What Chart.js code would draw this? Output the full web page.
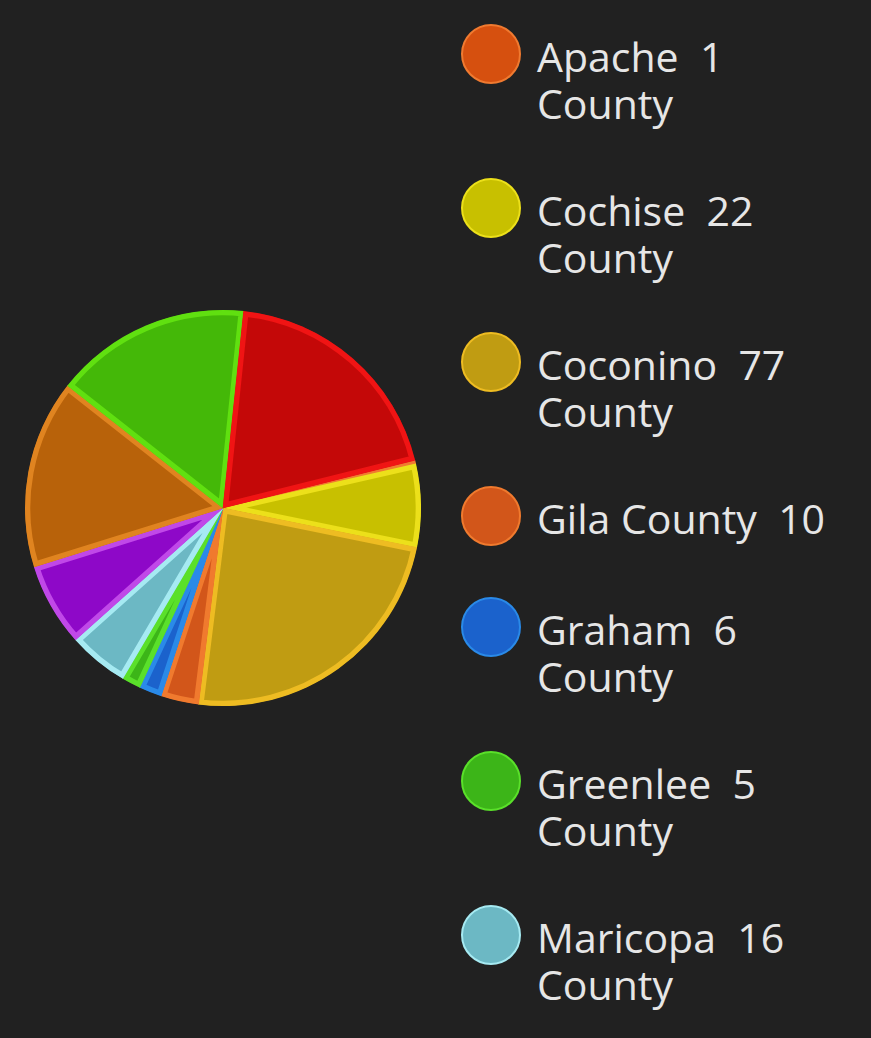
<!DOCTYPE html>
<html>
<head>
<meta charset="utf-8">
<script src="https://cdn.jsdelivr.net/npm/chart.js@4.4.1/dist/chart.umd.min.js"></script>
<style>
  html, body { margin: 0; padding: 0; background: #212121; width: 871px; height: 1038px; overflow: hidden; }
  #pieBox { position: absolute; left: 3px; top: 0; width: 440px; height: 1016px; }
  #legend { position: absolute; left: 461px; top: 33px; font-family: "Open Sans", sans-serif; font-weight: 500; font-size: 41px; line-height: 47px; color: #e6e6e6; }
  .item { display: flex; align-items: flex-start; margin-bottom: 60px; }
  .dot { width: 56px; height: 56px; border-radius: 50%; border: 2px solid; margin-top: -9px; margin-right: 16px; flex: none; }
  .txt { white-space: pre; }
</style>
</head>
<body>
<div id="pieBox"><canvas id="pie_county"></canvas></div>
<div id="legend"></div>
<script>
// county names and counts, in the order the slices run clockwise
var counties = ['Apache County', 'Cochise County', 'Coconino County', 'Gila County', 'Graham County',
    'Greenlee County', 'Maricopa County', 'Mohave County', 'Navajo County', 'Pima County', 'Pinal County'];
var counts = [1, 22, 77, 10, 6, 5, 16, 22, 50, 52, 63];
var fillColors = ['#d6500f', '#c8c000', '#c09c12', '#d2561a', '#1b62cc', '#3cb518',
    '#6cb8c4', '#8e08c8', '#b8620a', '#44b808', '#c40808'];
var edgeColors = ['#f07a30', '#ece01a', '#eebc22', '#f07a2e', '#2a8ae8', '#5ae02a',
    '#a6eaf2', '#c048e8', '#e08420', '#60e010', '#f01414'];
var shownInLegend = 7; // the rest of the legend is scrolled out of view

document.addEventListener("DOMContentLoaded", function() {
    var ctx = document.getElementById('pie_county').getContext('2d');

    new Chart(ctx, {
        type: 'pie',
        data: {
            labels: counties,
            datasets: [{
                data: counts,
                backgroundColor: fillColors,
                borderColor: edgeColors,
                borderWidth: 5,
                borderAlign: 'inner'
            }]
        },
        options: {
            responsive: true,
            maintainAspectRatio: false,
            animation: false,
            rotation: 76,
            layout: { padding: 22 },
            plugins: {
                legend: { display: false },
                tooltip: { enabled: false }
            }
        }
    });

    // legend: long names wrap "County" onto a second line
    var legend = document.getElementById('legend');
    for (var i = 0; i < shownInLegend; i++) {
        var name = counties[i];
        var text = name.length > 11
            ? name.replace(' County', '') + '  ' + counts[i] + '\nCounty'
            : name + '  ' + counts[i];
        var item = document.createElement('div');
        item.className = 'item';
        var dot = document.createElement('div');
        dot.className = 'dot';
        dot.style.background = fillColors[i];
        dot.style.borderColor = edgeColors[i];
        var txt = document.createElement('div');
        txt.className = 'txt';
        txt.textContent = text;
        item.appendChild(dot);
        item.appendChild(txt);
        legend.appendChild(item);
    }
});
</script>
</body>
</html>
